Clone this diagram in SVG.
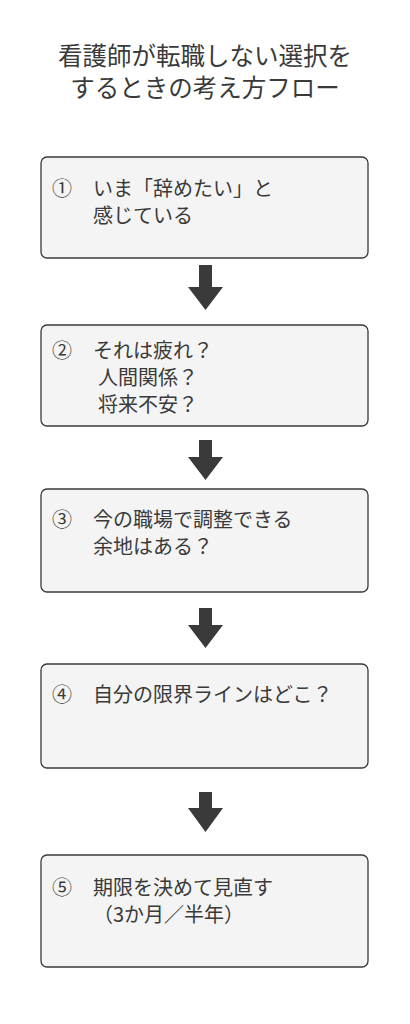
<svg xmlns="http://www.w3.org/2000/svg" width="410" height="1024" viewBox="0 0 410 1024">
<style>
text{font-family:"Noto Sans CJK JP","Noto Sans",sans-serif;fill:#3a3a3a}
.t{font-size:24.5px}
.b{font-size:20px}
.box{fill:#f4f4f4;stroke:#3a3a3a;stroke-width:1.3}
.arr{fill:#3a3a3a}
</style>
<rect width="410" height="1024" fill="#ffffff"/>
<g id="title">
<text class="t" x="205" y="65" text-anchor="middle">看護師が転職しない選択を</text>
<text class="t" x="205" y="97" text-anchor="middle">するときの考え方フロー</text>
</g>
<g id="n1">
<rect class="box" x="41" y="157" width="327" height="101" rx="6"/>
<text class="b" x="52" y="196">①</text>
<text class="b" x="93" y="196">いま「辞めたい」と</text>
<text class="b" x="93" y="223">感じている</text>
</g>
<g id="n2">
<rect class="box" x="41" y="325" width="327" height="101" rx="6"/>
<text class="b" x="52" y="358">②</text>
<text class="b" x="93" y="358">それは疲れ？</text>
<text class="b" x="98" y="385">人間関係？</text>
<text class="b" x="98" y="412">将来不安？</text>
</g>
<g id="n3">
<rect class="box" x="41" y="489" width="327" height="103" rx="6"/>
<text class="b" x="52" y="527">③</text>
<text class="b" x="93" y="527">今の職場で調整できる</text>
<text class="b" x="93" y="554">余地はある？</text>
</g>
<g id="n4">
<rect class="box" x="41" y="664" width="327" height="104" rx="6"/>
<text class="b" x="52" y="702">④</text>
<text class="b" x="93" y="702">自分の限界ラインはどこ？</text>
</g>
<g id="n5">
<rect class="box" x="41" y="855" width="327" height="112" rx="6"/>
<text class="b" x="52" y="895">⑤</text>
<text class="b" x="93" y="895">期限を決めて見直す</text>
<text class="b" x="93" y="922">（3か月／半年）</text>
</g>
<g id="connectors">
<path class="arr" d="M199 265 H212 V287 H223 L205.5 310 L188 287 H199 Z"/>
<path class="arr" d="M199 440 H212 V457 H223 L205.5 480 L188 457 H199 Z"/>
<path class="arr" d="M199 608 H212 V625 H223 L205.5 648 L188 625 H199 Z"/>
<path class="arr" d="M199 792 H212 V808 H223 L205.5 832 L188 808 H199 Z"/>
</g>
</svg>
